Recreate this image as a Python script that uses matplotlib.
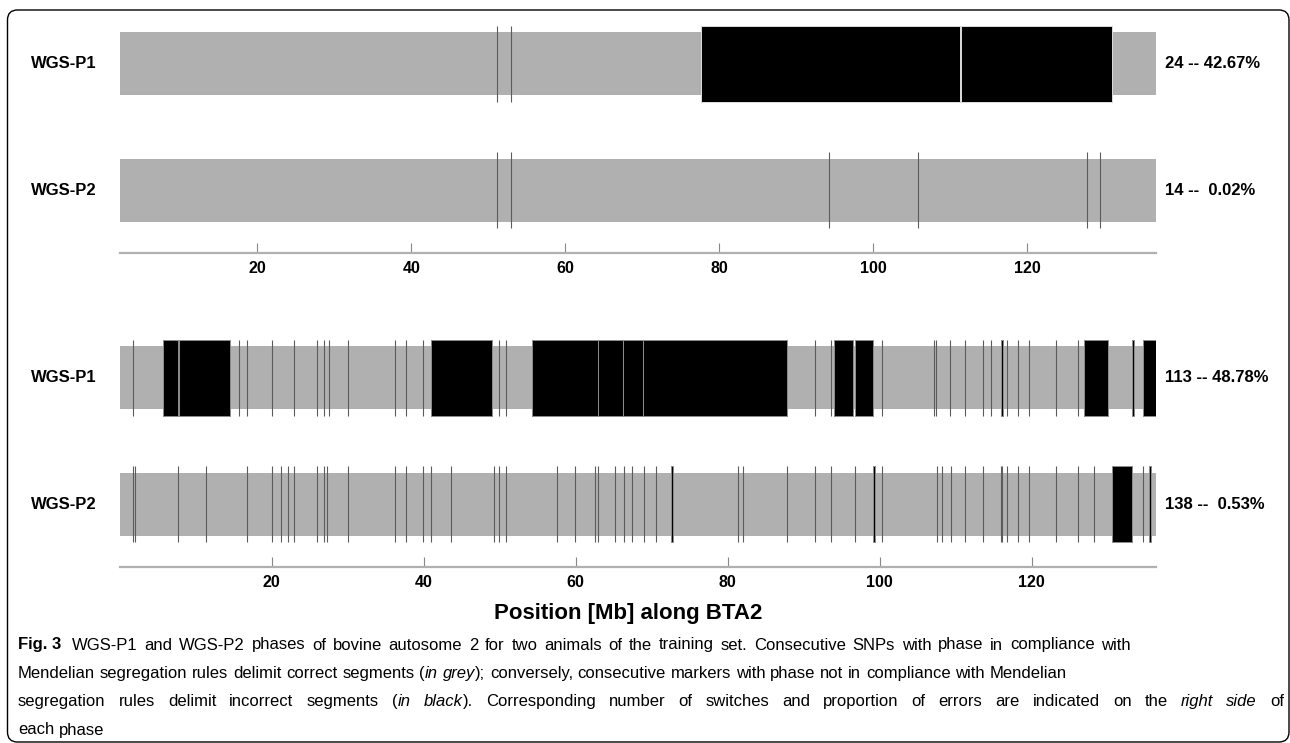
import matplotlib
matplotlib.use("Agg")
import matplotlib.pyplot as plt
from matplotlib.patches import FancyBboxPatch
from matplotlib.transforms import IdentityTransform
from matplotlib.font_manager import FontProperties

plt.rcParams['font.family'] = ['Liberation Sans', 'DejaVu Sans']

# ---- data (Mb positions along BTA2) ----
rows = ["WGS-P1", "WGS-P2"]
ticks = [20, 40, 60, 80, 100, 120]

# top panel
top_range = (2.17, 136.76)
top_p1_switch = [51.11, 52.92]
top_p1_wrong = [(77.69, 111.25), (111.45, 131.10)]
top_p2_switch = [51.11, 52.92, 94.32, 105.90, 127.76, 129.49]
top_p2_wrong = []
top_notes = ["24 -- 42.67%", "14 --  0.02%"]

# bottom panel
bot_range = (0.07, 136.35)
bot_p1_switch = [1.74, 15.69, 16.74, 20.11, 23.01, 26.03, 26.91, 27.53, 30.11,
                 36.29, 37.70, 39.98, 49.90, 50.82, 91.48, 93.62, 100.37,
                 107.14, 107.44, 109.28, 111.29, 113.58, 114.68, 116.74,
                 118.14, 119.64, 123.14, 126.03]
bot_p1_wrong = [(5.69, 7.66), (7.87, 14.54), (40.95, 49.06), (54.24, 63.01),
                (63.01, 66.22), (66.22, 68.93), (68.93, 87.79), (93.98, 96.48),
                (96.78, 99.11), (115.90, 116.16), (126.82, 129.98),
                (133.23, 133.49), (134.64, 136.35)]
bot_p2_switch = [1.74, 2.04, 7.71, 11.39, 16.79, 20.11, 21.22, 22.18, 23.01,
                 26.03, 26.87, 27.31, 30.11, 36.29, 37.70, 39.98, 40.95, 43.66,
                 49.24, 49.90, 50.82, 57.53, 59.90, 62.61, 63.01, 65.20, 66.35,
                 67.48, 68.98, 70.60, 81.39, 82.04, 87.79, 91.52, 93.66, 96.78,
                 100.37, 107.53, 108.19, 109.32, 111.29, 113.58, 115.90, 116.12,
                 116.74, 118.14, 119.59, 123.14, 126.03, 128.19, 134.58]
bot_p2_wrong = [(72.61, 72.80), (99.11, 99.45), (130.60, 133.23), (135.47, 135.73)]
bot_notes = ["113 -- 48.78%", "138 --  0.53%"]

# caption lines, |...| marks italics
cap_lines = [
    "WGS-P1 and WGS-P2 phases of bovine autosome 2 for two animals of the "
    "training set. Consecutive SNPs with phase in compliance with",
    "Mendelian segregation rules delimit correct segments (|in grey|); conversely, "
    "consecutive markers with phase not in compliance with Mendelian",
    "segregation rules delimit incorrect segments (|in black|). Corresponding number "
    "of switches and proportion of errors are indicated on the |right side| of",
    "each phase",
]

# ---- figure ----
FW, FH = 1290, 743
fig = plt.figure(figsize=(FW / 100, FH / 100), dpi=100)

GREY = "#b0b0b0"
LINE = "#5c5c5c"
BAR_H = 0.5
MARK_H = 0.607
ROW_Y = [1, 0]


def panel(bottom_px, xr, switches, wrongs, notes, edge):
    ax = fig.add_axes([120 / FW, 1 - bottom_px / FH, 1036 / FW, 252.6 / FH])
    ax.set_xlim(*xr)
    ax.set_ylim(-0.5, 1.5)
    for y, sw, wr in zip(ROW_Y, switches, wrongs):
        ax.barh(y, xr[1] - xr[0], left=xr[0], height=BAR_H, color=GREY, lw=0)
        ax.vlines(sw, y - MARK_H / 2, y + MARK_H / 2, color=LINE, lw=0.8)
        if wr:
            starts = [a for a, b in wr]
            widths = [b - a for a, b in wr]
            ax.barh(y, widths, left=starts, height=MARK_H, color="black",
                    edgecolor=edge, lw=0.7)
    for sp in ["left", "right", "top"]:
        ax.spines[sp].set_visible(False)
    ax.spines["bottom"].set_color("#b0b0b0")
    ax.spines["bottom"].set_linewidth(1.6)
    ax.set_yticks([])
    ax.set_xticks(ticks)
    ax.tick_params(axis="x", direction="in", length=7.2, width=0.8,
                   color="#888888", pad=5.5, labelsize=11.5)
    for lab in ax.get_xticklabels():
        lab.set_fontweight("bold")
    # row labels and right-hand notes
    for y, name, note in zip(ROW_Y, rows, notes):
        ax.text(-0.0545, y, name, transform=ax.get_yaxis_transform(),
                ha="center", va="center", fontsize=12, fontweight="bold")
        ax.text(1.0085, y, note, transform=ax.get_yaxis_transform(),
                ha="left", va="center", fontsize=12, fontweight="bold")
    return ax


panel(253.3, top_range, [top_p1_switch, top_p2_switch],
      [top_p1_wrong, top_p2_wrong], top_notes, "#dcdcdc")
panel(567.3, bot_range, [bot_p1_switch, bot_p2_switch],
      [bot_p1_wrong, bot_p2_wrong], bot_notes, "#8c8c8c")

fig.text(628 / FW, 1 - 613.3 / FH, "Position [Mb] along BTA2", ha="center",
         va="center", fontsize=16, fontweight="bold")

# ---- caption ----
CAP = ['Liberation Sans', 'DejaVu Sans']
CAP_SIZE = 12
renderer = fig.canvas.get_renderer()


def width(s, style, weight="normal"):
    fp = FontProperties(family=CAP, size=CAP_SIZE, style=style, weight=weight)
    w1 = renderer.get_text_width_height_descent(s + "|", fp, ismath=False)[0]
    w2 = renderer.get_text_width_height_descent("|", fp, ismath=False)[0]
    return w1 - w2


def put(x, y, s, style="normal", weight="normal"):
    fig.text(x / FW, 1 - y / FH, s, ha="left", va="center", family=CAP,
             fontsize=CAP_SIZE, style=style, fontweight=weight)


def cap_line(text, y, x0, x1=None):
    # split into words, each word a list of (piece, style)
    words = [[]]
    for k, piece in enumerate(text.split("|")):
        style = "italic" if k % 2 else "normal"
        for j, s in enumerate(piece.split(" ")):
            if j > 0:
                words.append([])
            if s:
                words[-1].append((s, style))
    words = [w for w in words if w]
    wsum = sum(width(s, st) for w in words for s, st in w)
    gap = width(" ", "normal") if x1 is None else (x1 - x0 - wsum) / (len(words) - 1)
    x = x0
    for w in words:
        for s, st in w:
            put(x, y, s, st)
            x += width(s, st)
        x += gap


put(18, 645, "Fig. 3", weight="bold")
cap_line(cap_lines[0], 645, 72, 1131)
cap_line(cap_lines[1], 673.5, 18, 1067)
cap_line(cap_lines[2], 701.5, 18, 1284)
cap_line(cap_lines[3], 730, 18)

frame = FancyBboxPatch((7.5, 1.0), 1281.5, 732, boxstyle="round,pad=0,rounding_size=10",
                       transform=IdentityTransform(), fill=False, ec="black", lw=1.0)
fig.add_artist(frame)

fig.savefig("out.png", dpi=100, facecolor="white")
